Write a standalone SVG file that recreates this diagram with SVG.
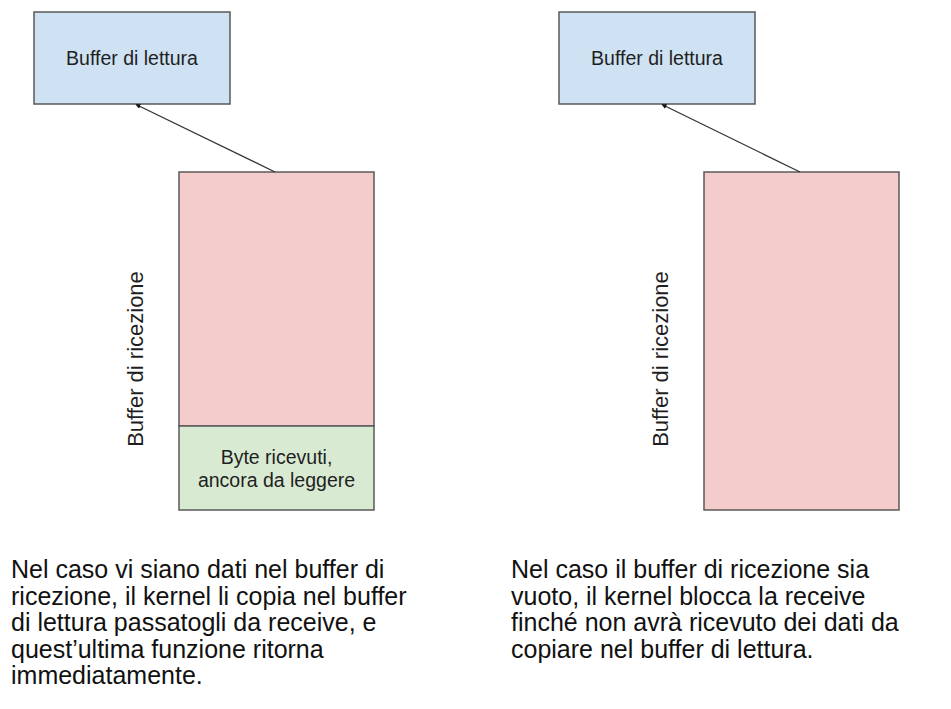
<svg xmlns="http://www.w3.org/2000/svg" width="951" height="709" viewBox="0 0 951 709">
<defs>
<style>
.box{stroke:#595959;stroke-width:1.5}
.blue{fill:#cfe2f3}
.pink{fill:#f4cccc}
.green{fill:#d9ead3}
.lbl{font-family:"Liberation Sans",Arial,sans-serif;font-size:19.5px;fill:#1f1f1f;text-anchor:middle}
.vlbl{font-family:"Liberation Sans",Arial,sans-serif;font-size:22px;fill:#1f1f1f;text-anchor:middle}
.desc{font-family:"Liberation Sans",Arial,sans-serif;font-size:25px;fill:#111}
.conn{stroke:#333;stroke-width:1.3;fill:none}
</style>
<marker id="ah" viewBox="0 0 10 10" refX="9" refY="5" markerWidth="5" markerHeight="5" orient="auto" markerUnits="userSpaceOnUse">
<path d="M0,0 L10,5 L0,10 z" fill="#111"/>
</marker>
</defs>
<rect width="951" height="709" fill="#fff"/>
<g id="left-read-buffer">
<rect class="box blue" x="34" y="12" width="196" height="92"/>
<text class="lbl" x="132" y="65">Buffer di lettura</text>
</g>
<g id="left-recv-buffer">
<rect class="box pink" x="179" y="172" width="195" height="254"/>
<text class="vlbl" transform="translate(143,359) rotate(-90)">Buffer di ricezione</text>
</g>
<g id="left-received-bytes">
<rect class="box green" x="179" y="426" width="195" height="84"/>
<text class="lbl" x="276.5" y="463.5">Byte ricevuti,</text>
<text class="lbl" x="276.5" y="486.5">ancora da leggere</text>
</g>
<g id="right-read-buffer">
<rect class="box blue" x="559" y="12" width="196" height="92"/>
<text class="lbl" x="657" y="65">Buffer di lettura</text>
</g>
<g id="right-recv-buffer">
<rect class="box pink" x="704" y="172" width="195" height="338"/>
<text class="vlbl" transform="translate(667.5,359) rotate(-90)">Buffer di ricezione</text>
</g>
<g id="connectors">
<line class="conn" x1="275" y1="172" x2="136" y2="104.5" marker-end="url(#ah)"/>
<line class="conn" x1="800" y1="172" x2="662" y2="104.5" marker-end="url(#ah)"/>
</g>
<g id="left-caption">
<text class="desc" x="11" y="578">Nel caso vi siano dati nel buffer di</text>
<text class="desc" x="11" y="604.5">ricezione, il kernel li copia nel buffer</text>
<text class="desc" x="11" y="631">di lettura passatogli da receive, e</text>
<text class="desc" x="11" y="657.5">quest’ultima funzione ritorna</text>
<text class="desc" x="11" y="684">immediatamente.</text>
</g>
<g id="right-caption">
<text class="desc" x="511" y="578">Nel caso il buffer di ricezione sia</text>
<text class="desc" x="511" y="604.5">vuoto, il kernel blocca la receive</text>
<text class="desc" x="511" y="631">finché non avrà ricevuto dei dati da</text>
<text class="desc" x="511" y="657.5">copiare nel buffer di lettura.</text>
</g>
</svg>
